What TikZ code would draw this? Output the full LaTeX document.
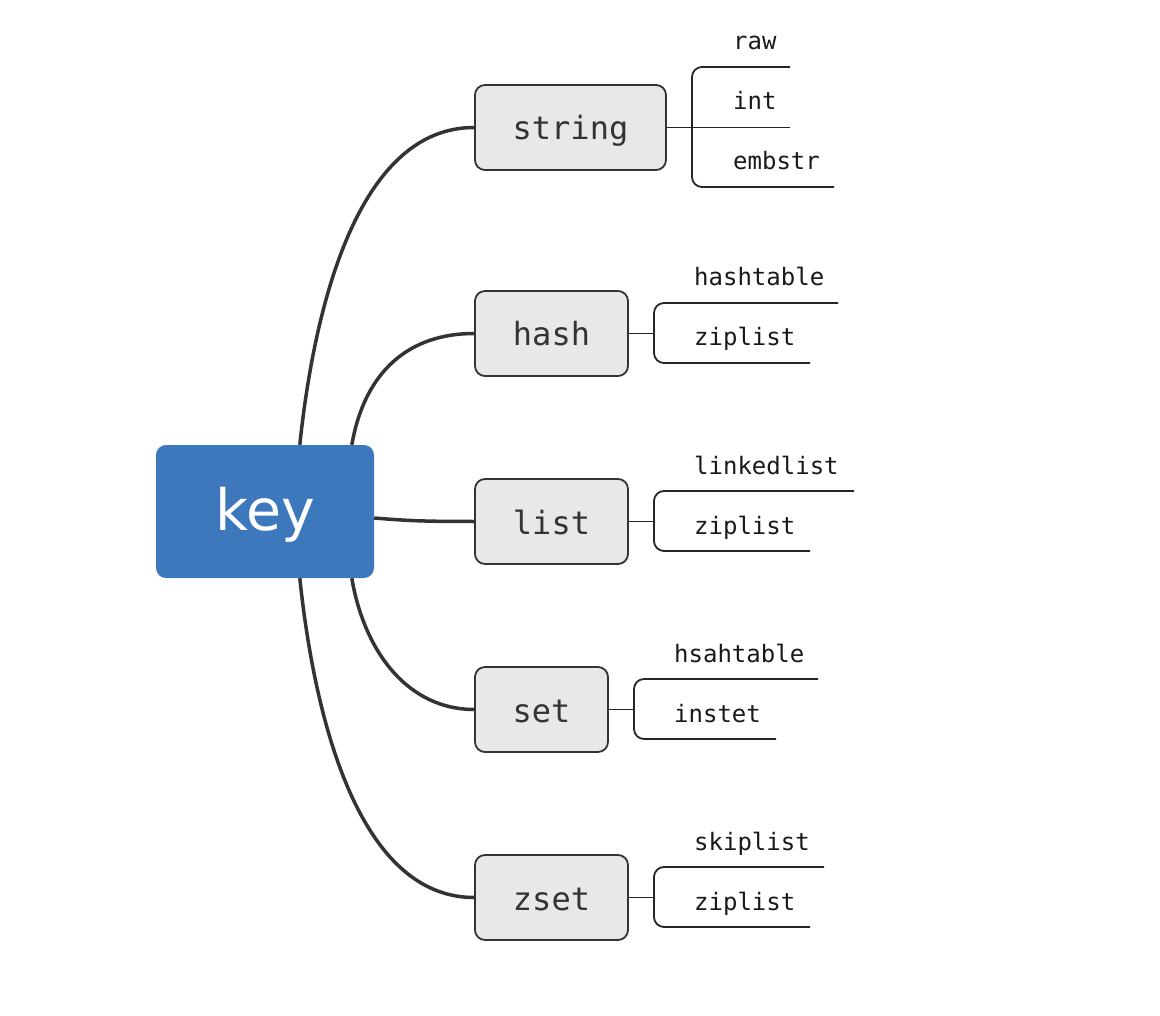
\documentclass[tikz,border=0pt]{standalone}
\usepackage{fontspec}
\newfontfamily\monofont{DejaVu Sans Mono}
\newfontfamily\keyfont{DejaVu Sans}
\definecolor{keyblue}{HTML}{3E78BC}
\definecolor{boxgray}{HTML}{E8E8E8}
\definecolor{ink}{HTML}{333333}
\begin{document}
\begin{tikzpicture}[x=1pt,y=-1pt,
  keybox/.style={draw=none,fill=keyblue,rounded corners=10pt,minimum width=218pt,minimum height=133pt,inner sep=0pt,
     font=\keyfont\fontsize{57}{60}\selectfont,text=white,text height=37.5pt,text depth=0pt},
  typebox/.style={draw=ink,line width=1.8pt,fill=boxgray,rounded corners=10pt,minimum height=85pt,inner sep=0pt,
     font=\monofont\fontsize{32}{36}\selectfont,text=ink,text height=25pt,text depth=0pt},
  branch/.style={draw=ink,line width=3.5pt},
  leafline/.style={draw=black!85,line width=1.8pt},
  bracket/.style={draw=black!85,line width=1.8pt,rounded corners=10pt},
  leaf/.style={anchor=base west,inner sep=0pt,font=\monofont\fontsize{24}{28}\selectfont,text=black!90}]
\useasboundingbox (0,0) rectangle (1160,1016);

% main nodes
\node[keybox] (key) at (265,511.5) {key};
\node[typebox,minimum width=191pt] (string) at (570.5,127.5) {string};
\node[typebox,minimum width=153pt] (hash) at (551.5,333.5) {hash};
\node[typebox,minimum width=153pt] (list) at (551.5,521.5) {list};
\node[typebox,minimum width=133pt] (set) at (541.5,709.5) {set};
\node[typebox,minimum width=153pt] (zset) at (551.5,897.5) {zset};

% start points on the key
\coordinate (k1) at ([xshift=144pt]key.north west);
\coordinate (k2) at ([xshift=196pt]key.north west);
\coordinate (k3) at ([yshift=-6.5pt]key.east);
\coordinate (k4) at ([xshift=196pt]key.south west);
\coordinate (k5) at ([xshift=144pt]key.south west);

\draw[branch] (k1) .. controls (315,300) and (360,127.5) .. (string.west);
\draw[branch] (k2) .. controls (365,370) and (410,333.5) .. (hash.west);
\draw[branch] (k3) .. controls (405,520.5) and (420,521.5) .. (list.west);
\draw[branch] (k4) .. controls (365,655) and (410,709.5) .. (set.west);
\draw[branch] (k5) .. controls (315,723) and (360,897.5) .. (zset.west);

% string encodings
\node[leaf] (raw) at (733,50) {raw};
\node[leaf] (int) at (733,110) {int};
\node[leaf] (embstr) at (733,170) {embstr};
\coordinate (s1) at (790,67);
\coordinate (s2) at (790,127.5);
\coordinate (s3) at (834,187);
\draw[leafline] (string.east) -- (s2);
\draw[bracket] (s1) -- (692,67) -- (692,187) -- (s3);

% hash encodings
\node[leaf] (hashtable) at (694,286) {hashtable};
\node[leaf] (hziplist) at (694,346) {ziplist};
\coordinate (h0) at (654,333.5);
\coordinate (h1) at (838,303);
\coordinate (h2) at (810,363);
\draw[leafline] (hash.east) -- (h0);
\draw[bracket] (h1) -- (654,303) -- (654,363) -- (h2);

% list encodings
\node[leaf] (linkedlist) at (694,474) {linkedlist};
\node[leaf] (lziplist) at (694,534) {ziplist};
\coordinate (l0) at (654,521.5);
\coordinate (l1) at (854,491);
\coordinate (l2) at (810,551);
\draw[leafline] (list.east) -- (l0);
\draw[bracket] (l1) -- (654,491) -- (654,551) -- (l2);

% set encodings
\node[leaf] (hsahtable) at (674,662) {hsahtable};
\node[leaf] (instet) at (674,722) {instet};
\coordinate (t0) at (634,709.5);
\coordinate (t1) at (818,679);
\coordinate (t2) at (776,739);
\draw[leafline] (set.east) -- (t0);
\draw[bracket] (t1) -- (634,679) -- (634,739) -- (t2);

% zset encodings
\node[leaf] (skiplist) at (694,850) {skiplist};
\node[leaf] (zziplist) at (694,910) {ziplist};
\coordinate (z0) at (654,897.5);
\coordinate (z1) at (824,867);
\coordinate (z2) at (810,927);
\draw[leafline] (zset.east) -- (z0);
\draw[bracket] (z1) -- (654,867) -- (654,927) -- (z2);
\end{tikzpicture}
\end{document}
